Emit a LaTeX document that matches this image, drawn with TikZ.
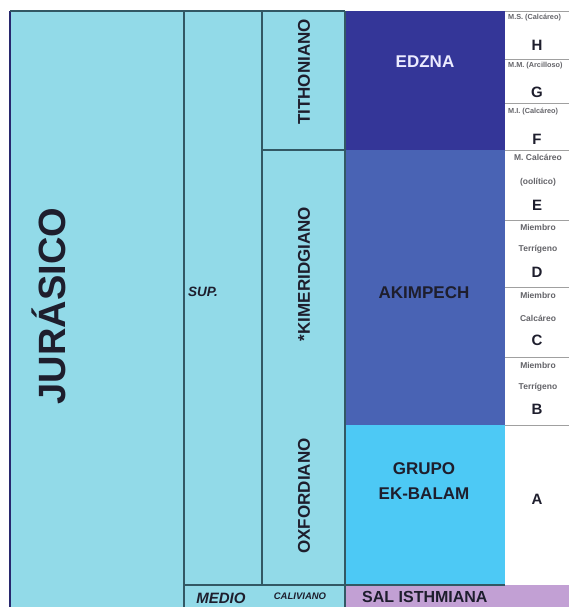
\documentclass[tikz,border=0pt]{standalone}
\usepackage{fontspec}
\setmainfont{Liberation Sans}
\definecolor{sky}{RGB}{146,218,232}
\definecolor{edzna}{RGB}{52,54,152}
\definecolor{akim}{RGB}{73,99,180}
\definecolor{ekbalam}{RGB}{77,201,245}
\definecolor{sal}{RGB}{194,160,212}
\definecolor{rule}{RGB}{50,88,100}
\definecolor{thin}{RGB}{160,160,160}
\definecolor{ink}{RGB}{30,30,45}
\definecolor{note}{RGB}{100,100,105}
\tikzset{
  rulel/.style={draw=rule, line width=1.1pt},
  thinl/.style={draw=thin, line width=0.8pt},
  vlabel/.style={rotate=90, font=\bfseries\fontsize{17}{17}\selectfont, text=ink, inner sep=0pt},
  unit/.style={font=\bfseries\fontsize{17}{20}\selectfont, text=ink, align=center, inner sep=0pt},
  member/.style={font=\bfseries\fontsize{8.5}{9}\selectfont, text=note, inner sep=0pt},
  topmember/.style={member, font=\bfseries\fontsize{7.3}{8}\selectfont, anchor=west},
  letter/.style={font=\bfseries\fontsize{15}{15}\selectfont, text=ink, inner sep=0pt},
}
\begin{document}
\begin{tikzpicture}[x=1pt,y=-1pt]
\useasboundingbox (0,0) rectangle (569,607);
\fill[white] (0,0) rectangle (569,607);

% period / epoch / stage columns
\fill[sky] (10,11) rectangle (345,607);
% formation column
\fill[edzna] (345,11) rectangle (505,150);
\fill[akim] (345,150) rectangle (505,425);
\fill[ekbalam] (345,425) rectangle (505,585);
\fill[sal] (345,585) rectangle (569,607);

% column rules
\draw[draw={rgb,255:red,40;green,40;blue,110}, line width=1.2pt] (10,11) -- (10,607);
\draw[rulel] (10,11) -- (345,11);
\draw[rulel] (184,11) -- (184,607);
\draw[rulel] (262,11) -- (262,585);
\draw[rulel] (345,11) -- (345,607);
\draw[rulel] (262,150) -- (345,150);
\draw[rulel] (184,585) -- (505,585);

% member column rules
\draw[thinl] (505,11) -- (569,11);
\foreach \yy in {59,103,150,220,287,357,425}
  \draw[thinl] (505,\yy) -- (569,\yy);

% period, epoch and stage names
\node[vlabel, font=\bfseries\fontsize{38}{38}\selectfont] (jur) at (49,306) {JURÁSICO};
\node[font=\bfseries\itshape\fontsize{13.5}{14}\selectfont, text=ink, anchor=west, inner sep=0pt] (sup) at (188,292) {SUP.};
\node[vlabel] (tith) at (304,72) {TITHONIANO};
\node[vlabel] (kim) at (304,274) {*KIMERIDGIANO};
\node[vlabel] (oxf) at (304,496) {OXFORDIANO};
\node[font=\bfseries\itshape\fontsize{15}{15}\selectfont, text=ink, inner sep=0pt] (medio) at (221,598) {MEDIO};
\node[font=\bfseries\itshape\fontsize{9.5}{10}\selectfont, text=ink, inner sep=0pt] (cal) at (300,596) {CALIVIANO};

% formations
\node[unit, text=white!92!blue] (edz) at (425,62) {EDZNA};
\node[unit] (aki) at (424,293) {AKIMPECH};
\node[unit, font=\bfseries\fontsize{17}{25}\selectfont] (ekb) at (424,481) {GRUPO\\EK-BALAM};
\node[font=\bfseries\fontsize{16}{16}\selectfont, text=ink, anchor=west, inner sep=0pt] (salt) at (362,597) {SAL ISTHMIANA};

% members
\node[topmember] (mh) at (508,18) {M.S. (Calcáreo)};
\node[letter] (h) at (537,45) {H};
\node[topmember] (mg) at (508,66) {M.M. (Arcilloso)};
\node[letter] (g) at (537,92) {G};
\node[topmember] (mf) at (508,112) {M.I. (Calcáreo)};
\node[letter] (f) at (537,139) {F};
\node[member] (me1) at (538,157) {M. Calcáreo};
\node[member] (me2) at (538,182) {(oolítico)};
\node[letter] (e) at (537,205) {E};
\node[member] (md1) at (538,227) {Miembro};
\node[member] (md2) at (538,249) {Terrígeno};
\node[letter] (d) at (537,272) {D};
\node[member] (mc1) at (538,295) {Miembro};
\node[member] (mc2) at (538,318) {Calcáreo};
\node[letter] (c) at (537,340) {C};
\node[member] (mb1) at (538,365) {Miembro};
\node[member] (mb2) at (538,387) {Terrígeno};
\node[letter] (b) at (537,409) {B};
\node[letter] (a) at (537,499) {A};
\end{tikzpicture}
\end{document}
